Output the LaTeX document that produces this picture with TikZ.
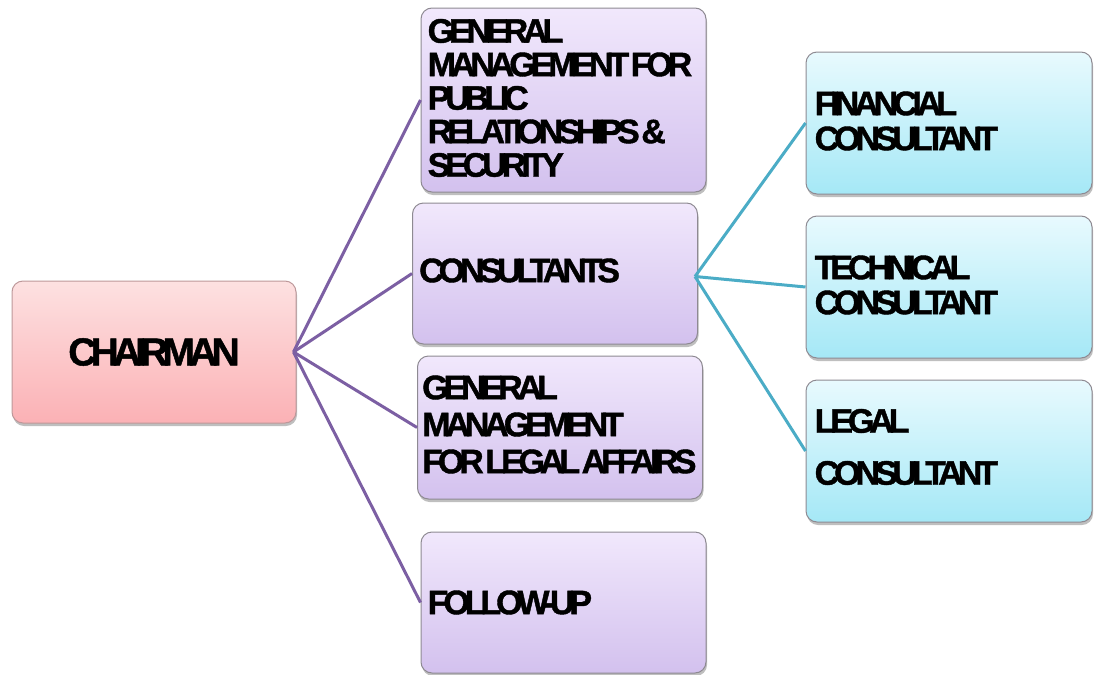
\documentclass[tikz,border=0pt]{standalone}
\usepackage{fontspec}
\setmainfont{Liberation Sans}
\newfontfamily\crunch{Liberation Sans Bold}[LetterSpace=-15, WordSpace=0.35, FakeBold=1.2]
\usetikzlibrary{shadows}
\definecolor{pinkT}{HTML}{FDE1E1}
\definecolor{pinkB}{HTML}{FBB1B5}
\definecolor{purT}{HTML}{F1E8FC}
\definecolor{purB}{HTML}{D3C1EE}
\definecolor{cyT}{HTML}{E8FAFE}
\definecolor{cyB}{HTML}{A5E8F6}
\definecolor{purLine}{HTML}{7C5FA3}
\definecolor{tealLine}{HTML}{4BACC6}
\definecolor{edgeGray}{HTML}{8E8A92}
\tikzset{
  boxbase/.style={draw=edgeGray, line width=1pt, rounded corners=11pt,
    drop shadow={shadow xshift=1pt, shadow yshift=-3pt, opacity=0.25, fill=black}},
  chairbox/.style={boxbase, top color=pinkT, bottom color=pinkB, draw=pinkB!50!gray,
    minimum width=284pt, minimum height=142pt, inner sep=0pt,
    font=\crunch\fontsize{39}{42}\selectfont},
  purbox/.style={boxbase, top color=purT, bottom color=purB,
    minimum width=285pt, minimum height=#1},
  cybox/.style={boxbase, top color=cyT, bottom color=cyB,
    minimum width=286pt, minimum height=142pt},
  lbl/.style={anchor=west, align=left, inner sep=0pt,
    font=\crunch\fontsize{34}{#1}\selectfont},
  lbl/.default=34,
  purconn/.style={draw=purLine, line width=3pt},
  tealconn/.style={draw=tealLine, line width=3pt}
}
\begin{document}
\begin{tikzpicture}[x=1pt, y=-1pt]
\useasboundingbox (0,0) rectangle (1096,675);
\node[chairbox] (chair) at (154,352) {CHAIRMAN};
\node[purbox=184pt] (gmpr) at (563.5,100) {};
\node[purbox=141pt] (cons) at (555,273.5) {};
\node[purbox=143pt] (gmlegal) at (560,427.5) {};
\node[purbox=141pt] (follow) at (563.5,602.5) {};
\node[cybox] (fin) at (949,123) {};
\node[cybox] (tech) at (949,287) {};
\node[cybox] (legal) at (949,451) {};
\node[lbl=33.5] (gmprT) at ([xshift=7pt,yshift=2pt]gmpr.west) {GENERAL\\MANAGEMENT FOR\\PUBLIC\\RELATIONSHIPS \&\\SECURITY};
\node[lbl] (consT) at ([xshift=7pt,yshift=3pt]cons.west) {CONSULTANTS};
\node[lbl=37] (gmlegalT) at ([xshift=5pt,yshift=3pt]gmlegal.west) {GENERAL\\MANAGEMENT\\FOR LEGAL AFFAIRS};
\node[lbl] (followT) at ([xshift=7pt]follow.west) {FOLLOW-UP};
\node[lbl=35] (finT) at ([xshift=9pt,yshift=2pt]fin.west) {FINANCIAL\\CONSULTANT};
\node[lbl=35] (techT) at ([xshift=9pt,yshift=2pt]tech.west) {TECHNICAL\\CONSULTANT};
\node[lbl=52] (legalT) at ([xshift=9pt,yshift=4pt]legal.west) {LEGAL\\CONSULTANT};
\coordinate (cE) at ([xshift=-3pt]chair.east);
\coordinate (kE) at ([xshift=-3pt,yshift=-3pt]cons.east);
\draw[purconn] (cE) -- (gmpr.west);
\draw[purconn] (cE) -- (cons.west);
\draw[purconn] (cE) -- (gmlegal.west);
\draw[purconn] (cE) -- (follow.west);
\draw[tealconn] (kE) -- (fin.west);
\draw[tealconn] (kE) -- (tech.west);
\draw[tealconn] (kE) -- (legal.west);
\end{tikzpicture}
\end{document}
